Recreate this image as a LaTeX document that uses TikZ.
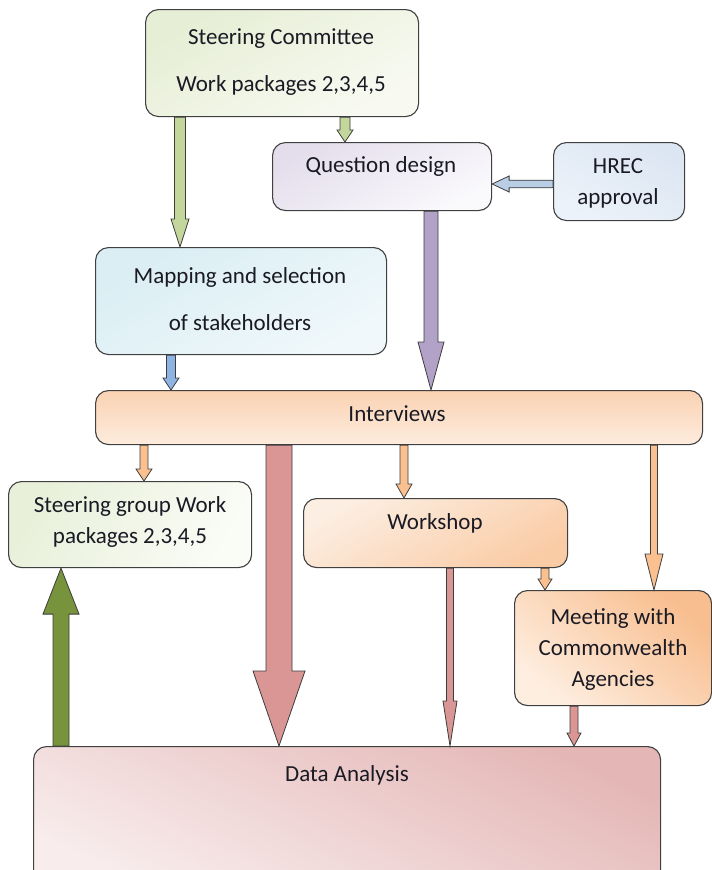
\documentclass[tikz,border=0pt]{standalone}
\usepackage{fontspec}
\setmainfont{Carlito}
\usetikzlibrary{calc}
\definecolor{boxline}{HTML}{404040}
\definecolor{arrline}{HTML}{3C3C3C}
\definecolor{txt}{HTML}{1A1A24}
\definecolor{agreenl}{HTML}{C3D69B}
\definecolor{agreend}{HTML}{77933C}
\definecolor{apurple}{HTML}{B3A2C7}
\definecolor{ablue}{HTML}{8EB4E3}
\definecolor{ablulite}{HTML}{B9CDE5}
\definecolor{aorange}{HTML}{FAC090}
\definecolor{apink}{HTML}{D99694}
\newcommand\vdownarrow[7]{% x, from, to, shaft half, head half, head length, fill
  \path[arr, fill=#7] let \p1=(#2.south), \p2=(#3.north) in
    (#1pt-#4pt,\y1) -- (#1pt-#4pt,\y2+#6pt) -- (#1pt-#5pt,\y2+#6pt) -- (#1pt,\y2)
    -- (#1pt+#5pt,\y2+#6pt) -- (#1pt+#4pt,\y2+#6pt) -- (#1pt+#4pt,\y1) -- cycle;}
\newcommand\vuparrow[7]{% x, from, to, shaft half, head half, head length, fill
  \path[arr, fill=#7] let \p1=(#2.north), \p2=(#3.south) in
    (#1pt-#4pt,\y1) -- (#1pt-#4pt,\y2-#6pt) -- (#1pt-#5pt,\y2-#6pt) -- (#1pt,\y2)
    -- (#1pt+#5pt,\y2-#6pt) -- (#1pt+#4pt,\y2-#6pt) -- (#1pt+#4pt,\y1) -- cycle;}
\newcommand\hleftarrow[7]{% y, from, to, shaft half, head half, head length, fill
  \path[arr, fill=#7] let \p1=(#2.west), \p2=(#3.east) in
    (\x1,-#1pt+#4pt) -- (\x2+#6pt,-#1pt+#4pt) -- (\x2+#6pt,-#1pt+#5pt) -- (\x2,-#1pt)
    -- (\x2+#6pt,-#1pt-#5pt) -- (\x2+#6pt,-#1pt-#4pt) -- (\x1,-#1pt-#4pt) -- cycle;}
\begin{document}
\begin{tikzpicture}[x=1pt,y=-1pt,
  box/.style={draw=boxline, line width=1.1pt, rounded corners=13pt, anchor=north west, inner sep=0pt},
  lbl/.style={font=\fontsize{23}{31}\selectfont, align=center, text=txt, inner sep=0pt},
  arr/.style={draw=arrline, line width=0.8pt, line join=miter}]
\useasboundingbox (0,0) rectangle (712,870);
\clip (0,0) rectangle (712,870);
\fill[white] (0,0) rectangle (712,870);
% boxes
\node[box, minimum width=273pt, minimum height=107pt,
  top color={rgb,255:red,230;green,238;blue,213}, bottom color={rgb,255:red,248;green,250;blue,242}, shading angle=30] (sc) at (145,9) {};
\node[box, minimum width=219pt, minimum height=68pt,
  top color={rgb,255:red,228;green,222;blue,236}, bottom color={rgb,255:red,250;green,249;blue,252}, shading angle=30] (qd) at (272,142) {};
\node[box, minimum width=131pt, minimum height=78pt,
  top color={rgb,255:red,220;green,230;blue,242}, bottom color={rgb,255:red,236;green,242;blue,249}, shading angle=-30] (hr) at (553,142) {};
\node[box, minimum width=291pt, minimum height=107pt,
  top color={rgb,255:red,218;green,238;blue,243}, bottom color={rgb,255:red,240;green,248;blue,251}, shading angle=30] (mp) at (95,247) {};
\node[box, minimum width=607pt, minimum height=54pt,
  top color={rgb,255:red,250;green,210;blue,178}, bottom color={rgb,255:red,253;green,236;blue,222}] (iv) at (95,390) {};
\node[box, minimum width=243pt, minimum height=86pt,
  top color={rgb,255:red,232;green,240;blue,218}, bottom color={rgb,255:red,250;green,252;blue,246}, shading angle=60] (sg) at (8,481) {};
\node[box, minimum width=264pt, minimum height=69pt,
  top color={rgb,255:red,252;green,238;blue,226}, bottom color={rgb,255:red,250;green,204;blue,166}, shading angle=30] (ws) at (303,498) {};
\node[box, minimum width=197pt, minimum height=115pt,
  top color={rgb,255:red,248;green,190;blue,143}, bottom color={rgb,255:red,254;green,238;blue,224}, shading angle=-40] (mt) at (514,590) {};
\node[box, minimum width=627pt, minimum height=140pt,
  top color={rgb,255:red,228;green,183;blue,182}, bottom color={rgb,255:red,248;green,236;blue,236}, shading angle=-25] (da) at (33,746) {};
% labels
\node[lbl] (sct) at (281,62) {Steering Committee\\[16pt]Work packages 2,3,4,5};
\node[lbl] (qdt) at (381,166) {Question design};
\node[lbl] (hrt) at (618,183) {HREC\\approval};
\node[lbl] (mpt) at (240,299) {Mapping and selection\\[16pt]of stakeholders};
\node[lbl] (ivt) at (397,414) {Interviews};
\node[lbl] (sgt) at (130,522) {Steering group Work\\packages 2,3,4,5};
\node[lbl] (wst) at (435,523) {Workshop};
\node[lbl] (mtt) at (613,649) {Meeting with\\Commonwealth\\Agencies};
\node[lbl] (dat) at (347,775) {Data Analysis};
% arrows
\vdownarrow{180}{sc}{mp}{5.5}{9}{28}{agreenl}
\vdownarrow{345}{sc}{qd}{5}{8}{12}{agreenl}
\hleftarrow{184}{hr}{qd}{3.8}{8}{17}{ablulite}
\vdownarrow{431}{qd}{iv}{7}{13}{48}{apurple}
\vdownarrow{171}{mp}{iv}{4.5}{8}{12}{ablue}
\vdownarrow{144}{iv}{sg}{4}{8}{12}{aorange}
\vdownarrow{279}{iv}{da}{13}{26}{75}{apink}
\vdownarrow{404}{iv}{ws}{4}{8}{14}{aorange}
\vdownarrow{654}{iv}{mt}{3.5}{9}{36}{aorange}
\vdownarrow{450}{ws}{da}{3.5}{7}{45}{apink}
\vdownarrow{545}{ws}{mt}{4}{7}{11}{aorange}
\vdownarrow{574}{mt}{da}{4}{7}{13}{apink}
\vuparrow{61}{da}{sg}{8}{18}{46}{agreend}
\end{tikzpicture}
\end{document}
